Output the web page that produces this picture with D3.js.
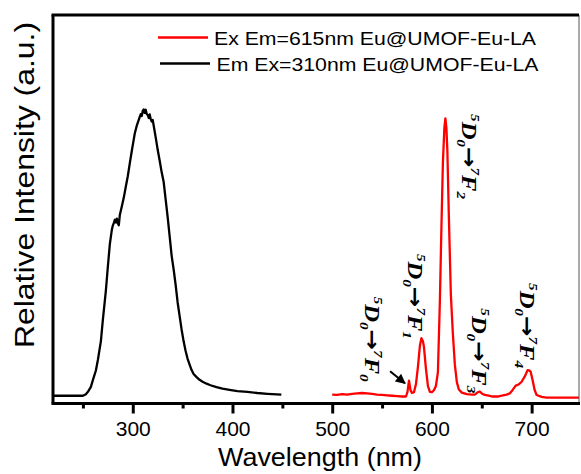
<!DOCTYPE html>
<html>
<head>
<meta charset="utf-8">
<script src="https://cdn.jsdelivr.net/npm/d3@7"></script>
<style>
  html, body { margin: 0; padding: 0; background: #fff; }
  svg { display: block; }
</style>
</head>
<body>
<svg id="chart" width="581" height="474"></svg>
<script>
// Excitation spectrum (monitored at 615 nm) – wavelength (nm) and intensity (a.u.)
const exWavelength = [500,505,510,515,520,525,530,535,540,545,550,555,560,565,570,574,575.5,577,578.5,580,582,584,586,588,589.5,591,592,594,596,598,600,602,604,606,608,609.5,611,612.5,613.5,614.5,615.5,617,619,621,623,625,627,630,635,640,643,646,648,650,653,657,661,666,670,675,678,681,684,687,690,693,696,697.5,699,701,703,705,710,715,720,730,740,747.5];
const exIntensity  = [2.3,2.2,2.4,2.3,2.5,2.6,2.7,2.6,2.5,2.3,2.2,2.1,2.0,1.9,1.8,1.8,3.0,5.9,3.5,2.7,2.9,5.0,9.5,15.0,16.8,16.0,14.6,9.0,4.5,3.0,2.9,3.4,4.5,8.0,26.6,45,62,71,73.4,71,65,48,28,18,10,5.5,3.6,2.8,2.4,2.3,2.3,2.9,3.1,2.6,2.2,2.0,1.8,1.8,2.0,2.3,2.6,3.5,4.6,4.9,5.6,6.9,8.6,8.5,8.2,6.0,3.5,2.2,1.7,1.5,1.5,1.5,1.5,1.5];

// Emission spectrum (excited at 310 nm)
const emWavelength = [220,230,240,245,250,253,255,258,260,263,265,268,270,273,275,277,279,280,281,282,283,284,285,286,287,289,291,293,295,297,299,301,302,304,306,307,308,309,310,311,312,313,314,315,316,317,318,319,320,321,323,325,327,329,331,333,335,337,339,341,343,345,347,349,351,353,355,357,359,361,364,367,370,374,378,384,390,397,405,415,425,435,449];
const emIntensity  = [2.0,2.0,2.0,2.0,2.0,2.4,3.0,4.3,6.0,8.5,11.2,16,21.5,29,35.2,41,44.7,45.8,46.5,47.3,46.6,47.6,46.4,45.9,48.5,50.7,53,55.8,58.5,61.8,65,68,69.5,71.5,73,73.8,74.5,74,75.3,75.7,74.8,75.6,74.5,74.3,73.5,74.4,73.2,72.6,73.0,71.5,68.5,65.3,62.5,59.5,57,52.5,48,43,38,34.5,30.5,26,22.5,19,16,13.5,11.5,10,8.6,7.6,6.8,6.1,5.6,5.1,4.7,4.2,3.8,3.5,3.2,3.0,2.7,2.5,2.3];

// Axis ticks
const majorTicks = [300, 400, 500, 600, 700];
const minorTicks = [250, 350, 450, 550, 650];

// Legend entries
const legendLabels = ["Ex Em=615nm Eu@UMOF-Eu-LA", "Em Ex=310nm Eu@UMOF-Eu-LA"];
const legendColors = ["#ff0000", "#000000"];

// Eu3+ transition labels: 5D0 -> 7FJ, anchored at (wavelength, intensity)
const transitionJ    = ["0", "1", "2", "3", "4"];
const transitionAtWl = [533, 576.5, 630.5, 640.5, 688];
const transitionAtI  = [27.5, 38.5, 74.5, 24.5, 31];

const svg = d3.select("#chart");
const plot = { left: 53, right: 579, top: 15, bottom: 403.5 };

const x = d3.scaleLinear().domain([220, 747.5]).range([plot.left, plot.right]);
const y = d3.scaleLinear().domain([0, 100]).range([plot.bottom, plot.top]);

const defs = svg.append("defs");
defs.append("clipPath").attr("id", "plotClip")
  .append("rect")
  .attr("x", plot.left).attr("y", plot.top)
  .attr("width", plot.right - plot.left).attr("height", plot.bottom - plot.top);

const line = d3.line().x(d => x(d[0])).y(d => y(d[1]));

const curves = svg.append("g").attr("clip-path", "url(#plotClip)");
curves.append("path")
  .datum(emWavelength.map((w, i) => [w, emIntensity[i]]))
  .attr("d", line).attr("fill", "none")
  .attr("stroke", "#000").attr("stroke-width", 2.3).attr("stroke-linejoin", "round");
curves.append("path")
  .datum(exWavelength.map((w, i) => [w, exIntensity[i]]))
  .attr("d", line).attr("fill", "none")
  .attr("stroke", "#ff0000").attr("stroke-width", 2.3).attr("stroke-linejoin", "round");

// Frame: thick left/top/bottom, thin right
svg.append("line").attr("x1", plot.right).attr("x2", plot.right)
  .attr("y1", plot.top).attr("y2", plot.bottom)
  .attr("stroke", "#555").attr("stroke-width", 1);
svg.append("line").attr("x1", plot.left - 1.5).attr("x2", plot.right)
  .attr("y1", plot.top).attr("y2", plot.top)
  .attr("stroke", "#000").attr("stroke-width", 3);
svg.append("line").attr("x1", plot.left).attr("x2", plot.left)
  .attr("y1", plot.top).attr("y2", plot.bottom)
  .attr("stroke", "#000").attr("stroke-width", 3);

// Bottom axis with major and minor ticks
const axisMajor = d3.axisBottom(x).tickValues(majorTicks).tickSize(10).tickPadding(8).tickFormat(d3.format("d"));
const axisMinor = d3.axisBottom(x).tickValues(minorTicks).tickSize(5).tickFormat("");
const gMinor = svg.append("g").attr("transform", `translate(0,${plot.bottom})`).call(axisMinor);
const gMajor = svg.append("g").attr("transform", `translate(0,${plot.bottom})`).call(axisMajor);
[gMinor, gMajor].forEach(g => {
  g.select(".domain").remove();
  g.selectAll(".tick line").attr("stroke", "#000").attr("stroke-width", 3);
});
gMajor.selectAll(".tick text")
  .attr("font-family", "Arial, 'Liberation Sans', sans-serif")
  .attr("font-size", 21).attr("fill", "#000");
svg.append("line").attr("x1", plot.left - 1.5).attr("x2", plot.right + 1)
  .attr("y1", plot.bottom).attr("y2", plot.bottom)
  .attr("stroke", "#000").attr("stroke-width", 3);

// Axis titles
svg.append("text")
  .attr("x", 320).attr("y", 466)
  .attr("text-anchor", "middle")
  .attr("font-family", "Arial, 'Liberation Sans', sans-serif")
  .attr("font-size", 26)
  .attr("textLength", 204).attr("lengthAdjust", "spacingAndGlyphs")
  .text("Wavelength (nm)");
svg.append("text")
  .attr("transform", "translate(34,185) rotate(-90)")
  .attr("text-anchor", "middle")
  .attr("font-family", "Arial, 'Liberation Sans', sans-serif")
  .attr("font-size", 27)
  .attr("textLength", 326).attr("lengthAdjust", "spacingAndGlyphs")
  .text("Relative Intensity (a.u.)");

// Legend
const legend = svg.append("g");
legendLabels.forEach((label, i) => {
  const ly = 37.5 + i * 26;
  legend.append("line")
    .attr("x1", 158 + i * 2).attr("x2", 208 + i * 2)
    .attr("y1", ly).attr("y2", ly)
    .attr("stroke", legendColors[i]).attr("stroke-width", 2.3);
  legend.append("text")
    .attr("x", 214 + i * 2.5).attr("y", ly + 7.5)
    .attr("font-family", "Arial, 'Liberation Sans', sans-serif")
    .attr("font-size", 19)
    .attr("textLength", 322).attr("lengthAdjust", "spacingAndGlyphs")
    .text(label);
});

// Transition labels, rotated to read top to bottom
const ann = svg.append("g")
  .attr("font-family", "'Times New Roman', 'Liberation Serif', serif")
  .attr("font-weight", "bold").attr("font-style", "italic")
  .attr("fill", "#000");
transitionJ.forEach((j, i) => {
  const t = ann.append("text")
    .attr("transform", `translate(${x(transitionAtWl[i])},${y(transitionAtI[i])}) rotate(90)`)
    .attr("font-size", 21)
    .attr("textLength", 85).attr("lengthAdjust", "spacingAndGlyphs");
  t.append("tspan").attr("font-size", 13).attr("dy", -9).text("5");
  t.append("tspan").attr("dy", 9).text("D");
  t.append("tspan").attr("font-size", 13).attr("dy", 5).text("0");
  t.append("tspan").attr("dy", -5)
    .attr("font-family", "'DejaVu Sans', sans-serif").attr("font-style", "normal")
    .attr("font-size", 21).text("\u2192");
  t.append("tspan").attr("font-size", 13).attr("dy", -9).text("7");
  t.append("tspan").attr("dy", 9).text("F");
  t.append("tspan").attr("font-size", 13).attr("dy", 5).text(j);
});

// Arrow pointing at the weak 5D0 -> 7F0 line
const arrowFrom = [558, 8.3], arrowTo = [573, 5.2];
defs.append("marker")
  .attr("id", "head").attr("viewBox", "0 0 10 10")
  .attr("refX", 9).attr("refY", 5)
  .attr("markerWidth", 5.5).attr("markerHeight", 5)
  .attr("markerUnits", "strokeWidth")
  .attr("orient", "auto")
  .append("path").attr("d", "M0,0 L10,5 L0,10 z").attr("fill", "#000");
svg.append("line")
  .attr("x1", x(arrowFrom[0])).attr("y1", y(arrowFrom[1]))
  .attr("x2", x(arrowTo[0])).attr("y2", y(arrowTo[1]))
  .attr("stroke", "#000").attr("stroke-width", 2)
  .attr("marker-end", "url(#head)");
</script>
</body>
</html>
